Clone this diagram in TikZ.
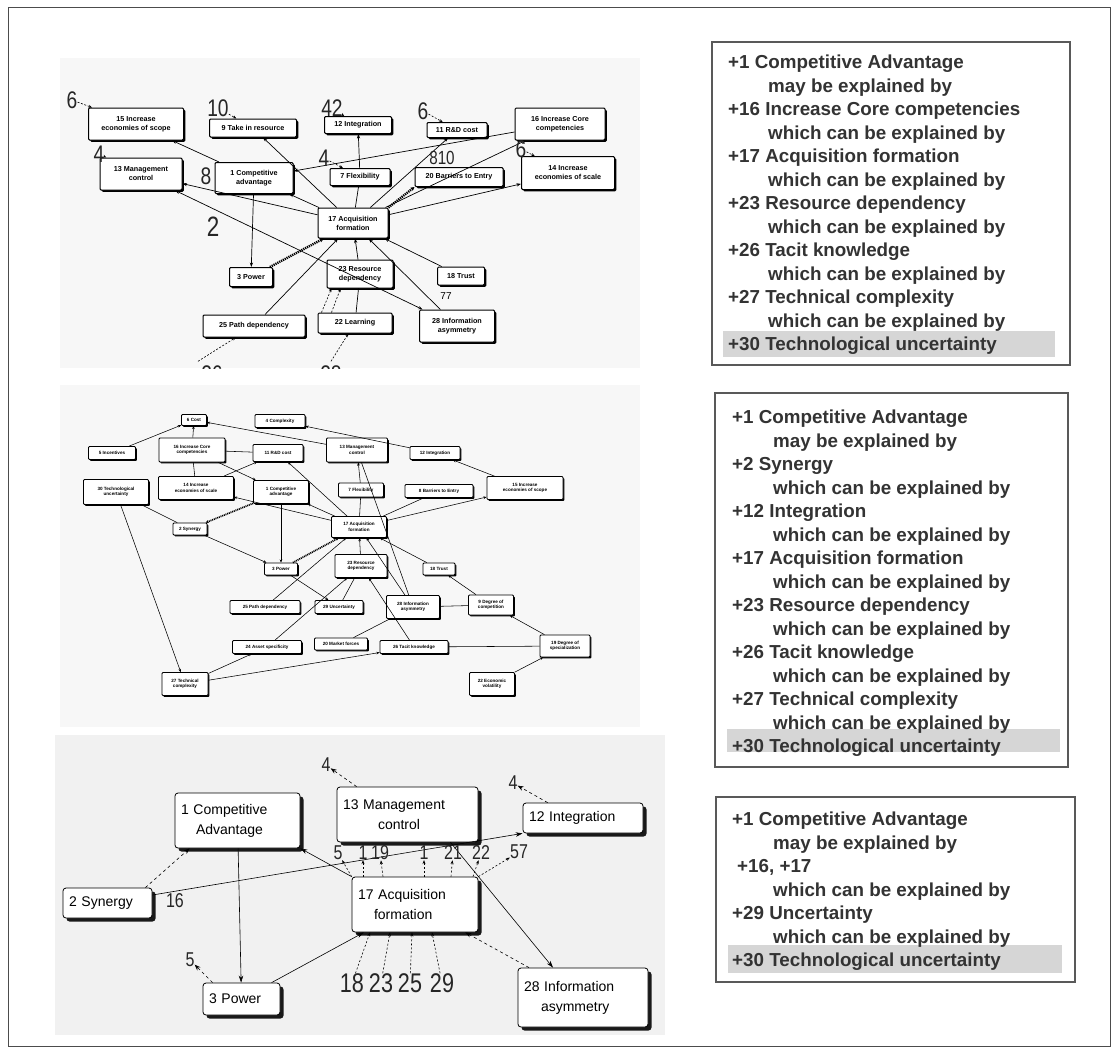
\documentclass[tikz,border=0pt]{standalone}
\usepackage{fontspec}
\setmainfont{Liberation Sans}
\usepackage{graphicx}
\usetikzlibrary{arrows.meta,shadows}
\newcommand\cnum[1]{\scalebox{0.8}[1]{#1}}
\begin{document}
\begin{tikzpicture}[x=1pt,y=-1pt,
  tbox/.style={draw=black, line width=1pt, fill=white, rounded corners=1.2pt, inner sep=1pt, align=center,
    font=\fontsize{7.2}{9}\selectfont\bfseries,
    drop shadow={shadow xshift=1.8pt, shadow yshift=-1.8pt, fill=black, opacity=1}},
  mbox/.style={draw=black, line width=0.8pt, fill=white, rounded corners=1pt, inner sep=0.5pt, align=center,
    font=\fontsize{4.6}{5.4}\selectfont\bfseries,
    drop shadow={shadow xshift=1.4pt, shadow yshift=-1.4pt, fill=black, opacity=1}},
  bbox/.style={draw=black, line width=0.8pt, fill=white, rounded corners=3pt, align=left, inner xsep=6pt, inner ysep=2pt,
    font=\fontsize{14}{20}\selectfont,
    drop shadow={shadow xshift=3.5pt, shadow yshift=-3.5pt, fill=black!90, opacity=1}},
  tarr/.style={-{Stealth[length=4.5pt,width=3.2pt]}, line width=0.7pt},
  tline/.style={line width=0.7pt},
  marr/.style={-{Stealth[length=3.2pt,width=2.6pt]}, line width=0.55pt},
  mline/.style={line width=0.55pt},
  thatch/.style={line width=2.4pt, dash pattern=on 1.2pt off 0.9pt, -{Stealth[length=4pt,width=4pt]}},
  mhatch/.style={line width=1.7pt, dash pattern=on 1pt off 0.8pt, -{Stealth[length=3pt,width=3pt]}},
  tdash/.style={-{Stealth[length=3.5pt,width=2.8pt]}, line width=0.6pt, dash pattern=on 2pt off 1.6pt},
  barr/.style={-{Stealth[length=7pt,width=4.5pt]}, line width=0.6pt},
  bdash/.style={-{Stealth[length=6pt,width=4.5pt]}, line width=0.6pt, dash pattern=on 3pt off 3pt},
  sdash/.style={-{Stealth[length=4pt,width=3pt]}, line width=0.6pt, dash pattern=on 2pt off 2pt},
  bignum/.style={font=\fontsize{24}{24}\selectfont, inner sep=0pt, text=black!85},
  bnum/.style={font=\fontsize{20}{20}\selectfont, inner sep=0pt, text=black!85},
  qnum/.style={font=\fontsize{27}{27}\selectfont, inner sep=0pt, text=black!85},
  rtext/.style={font=\fontsize{18.8}{23.5}\selectfont\bfseries, text=black!80, align=left, inner sep=0pt, anchor=north west},
  rbox/.style={draw=black!65, line width=1.1pt},
  hl/.style={fill=gray!32}
]
\useasboundingbox (0,0) rectangle (1117,1055);
\fill[white] (0,0) rectangle (1117,1055);
\draw[black!70, line width=0.8pt] (8,7) rectangle (1110,1046);
% panels
\fill[gray!6] (60,58) rectangle (640,368);
\fill[gray!6] (60,385) rectangle (640,727);
\fill[gray!11] (55,735) rectangle (665,1035);

% ================= TOP GRAPH =================
\node[tbox, minimum width=95pt, minimum height=32pt] (t15) at (136,124) {15 Increase\\economies of scope};
\node[tbox, minimum width=87pt, minimum height=18pt] (t9) at (253,128) {9 Take in resource};
\node[tbox, minimum width=67pt, minimum height=17pt] (t12) at (358,125) {12 Integration};
\node[tbox, minimum width=60pt, minimum height=15pt] (t11) at (457,130) {11 R\&D cost};
\node[tbox, minimum width=90pt, minimum height=32pt] (t16) at (560,124) {16 Increase Core\\competencies};
\node[tbox, minimum width=82pt, minimum height=32pt] (t13) at (141,174) {13 Management\\control};
\node[tbox, minimum width=78pt, minimum height=31pt] (t1) at (254,178) {1 Competitive\\advantage};
\node[tbox, minimum width=60pt, minimum height=17pt] (t7) at (360,177) {7 Flexibility};
\node[tbox, minimum width=88pt, minimum height=19pt] (t20) at (459,177) {20 Barriers to Entry};
\node[tbox, minimum width=93pt, minimum height=33pt] (t14) at (568,173) {14 Increase\\economies of scale};
\node[tbox, minimum width=70pt, minimum height=30pt] (t17) at (353,223) {17 Acquisition\\formation};
\node[tbox, minimum width=43pt, minimum height=19pt] (t3) at (251,277) {3 Power};
\node[tbox, minimum width=66pt, minimum height=28pt] (t23) at (360,274) {23 Resource\\dependency};
\node[tbox, minimum width=47pt, minimum height=18pt] (t18) at (461,276) {18 Trust};
\node[tbox, minimum width=102pt, minimum height=22pt] (t25) at (254,326) {25 Path dependency};
\node[tbox, minimum width=74pt, minimum height=20pt] (t22) at (355,323) {22 Learning};
\node[tbox, minimum width=75pt, minimum height=32pt] (t28) at (457,326) {28 Information\\asymmetry};

\draw[tarr] (t1) -- (t15);
\draw[tarr] (t17) -- (t9);
\draw[tline] (t17) -- (t7);
\draw[tarr] (t7) -- (t12);
\draw[tarr] (t17) -- (t11);
\draw[tarr] (t16) -- (t1);
\draw[tarr] (t17) -- (t14);
\draw[tarr] (t17) -- (t16);
\draw[thatch] (t17.north east) -- (t20.south west);
\draw[tarr] (t17) -- (t13);
\draw[{Stealth[length=4.5pt,width=3.2pt]}-{Stealth[length=4.5pt,width=3.2pt]}, line width=0.7pt] (t13) -- (t28);
\draw[tarr] (t17) -- (t1);
\draw[tarr] (t1) -- (t3);
\draw[thatch] (t3) -- (t17);
\draw[tarr] (t25) -- (t17);
\draw[tarr] (t23) -- (t17);
\draw[tarr] (t28) -- (t17);
\draw[tarr] (t18) -- (t17);
\draw[tline] (t22) -- (t23);

% number labels (top)
\node[bignum] (la) at (72,100) {\cnum{6}};
\node[bignum] (lb) at (218,108) {\cnum{10}};
\node[bignum] (lc) at (332,108) {\cnum{42}};
\node[bignum] (ld) at (423,111) {\cnum{6}};
\node[bignum] (le) at (99,154) {\cnum{4}};
\node[bignum] (lf) at (206,176) {\cnum{8}};
\node[bignum] (lg) at (324,158) {\cnum{4}};
\node[bignum] (lh) at (521,149) {\cnum{6}};
\node[font=\fontsize{28}{28}\selectfont, inner sep=0pt, text=black!85] (li) at (213,227) {\cnum{2}};
\node[font=\fontsize{19}{19}\selectfont, inner sep=0pt, text=black!85] (lj) at (442,158) {\cnum{810}};
\node[font=\fontsize{10}{10}\selectfont, inner sep=0pt] (ll) at (446,296) {77};
\draw[tdash] (la) -- (t15);
\draw[tdash] (lb) -- (t9);
\draw[tdash] (lc) -- (t12);
\draw[tdash] (ld) -- (t11);
\draw[tdash] (le) -- (t13);
\draw[tdash] (lg) -- (t7);
\draw[tdash] (lh) -- (t14);
\draw[tdash] ([xshift=4pt]t22.north west) -- ([xshift=5pt]t23.south west);
\draw[tdash] ([xshift=14pt]t22.north west) -- ([xshift=14pt]t23.south west);
\begin{scope}
\clip (60,58) rectangle (640,368);
\node[bignum] (lm) at (212,374) {\cnum{26}};
\node[bignum] (ln) at (331,374) {\cnum{28}};
\end{scope}
\draw[tdash] ([xshift=-14pt,yshift=4pt]lm.north) -- (t25);
\draw[tdash] ([yshift=4pt]ln.north) -- (t22);

% ================= MIDDLE GRAPH =================
\node[mbox, minimum width=25pt, minimum height=11pt] (m6) at (194,420) {6 Cost};
\node[mbox, minimum width=50pt, minimum height=13pt] (m4) at (280,421) {4 Complexity};
\node[mbox, minimum width=47pt, minimum height=13pt] (mInc) at (112,453) {5 Incentives};
\node[mbox, minimum width=66pt, minimum height=24pt] (m16) at (192,450) {16 Increase Core\\competencies};
\node[mbox, minimum width=50pt, minimum height=17pt] (m11) at (278,453) {11 R\&D cost};
\node[mbox, minimum width=61pt, minimum height=24pt] (m13) at (357,450) {13 Management\\control};
\node[mbox, minimum width=50pt, minimum height=13pt] (m12) at (435,453) {12 Integration};
\node[mbox, minimum width=65pt, minimum height=25pt] (m30) at (116,492) {30 Technological\\uncertainty};
\node[mbox, minimum width=75pt, minimum height=23pt] (m14) at (196,488) {14 Increase\\economies of scale};
\node[mbox, minimum width=55pt, minimum height=23pt] (m1) at (281,492) {1 Competitive\\advantage};
\node[mbox, minimum width=45pt, minimum height=14pt] (m7) at (361,490) {7 Flexibility};
\node[mbox, minimum width=68pt, minimum height=13pt] (m8) at (439,491) {8 Barriers to Entry};
\node[mbox, minimum width=76pt, minimum height=23pt] (m15) at (525,488) {15 Increase\\economies of scope};
\node[mbox, minimum width=34pt, minimum height=12pt] (m2) at (190,529) {2 Synergy};
\node[mbox, minimum width=55pt, minimum height=21pt] (m17) at (359,527) {17 Acquisition\\formation};
\node[mbox, minimum width=33pt, minimum height=12pt] (mPow) at (281,569) {3 Power};
\node[mbox, minimum width=52pt, minimum height=23pt] (m23) at (361,566) {23 Resource\\dependency};
\node[mbox, minimum width=32pt, minimum height=12pt] (m21) at (439,569) {18 Trust};
\node[mbox, minimum width=70pt, minimum height=13pt] (mPath) at (265,607) {25 Path dependency};
\node[mbox, minimum width=48pt, minimum height=13pt] (m29) at (339,607) {29 Uncertainty};
\node[mbox, minimum width=53pt, minimum height=23pt] (m28) at (413,607) {28 Information\\asymmetry};
\node[mbox, minimum width=45pt, minimum height=20pt] (m9) at (491,605) {9 Degree of\\competition};
\node[mbox, minimum width=69pt, minimum height=13pt] (m24) at (267,647) {24 Asset specificity};
\node[mbox, minimum width=53pt, minimum height=12pt] (m20) at (341,644) {20 Market forces};
\node[mbox, minimum width=68pt, minimum height=13pt] (m26) at (414,647) {26 Tacit knowledge};
\node[mbox, minimum width=50pt, minimum height=22pt] (m7d) at (565,646) {19 Degree of\\specialization};
\node[mbox, minimum width=46pt, minimum height=23pt] (m27) at (185,684) {27 Technical\\complexity};
\node[mbox, minimum width=45pt, minimum height=23pt] (m31) at (492,684) {22 Economic\\volatility};

\draw[marr] (mInc) -- (m6);
\draw[marr] (m16) -- (m6);
\draw[mline] (m14) -- (m16);
\draw[marr] (m13) -- (m6);
\draw[marr] (m12) -- (m4);
\draw[mline] (m16) -- (m11);
\draw[marr] (m14) -- (m11);
\draw[marr] (m16) -- (m1);
\draw[marr] (m17) -- (m11);
\draw[marr] (m17) -- (m1);
\draw[marr] (m1) -- (mPow);
\draw[mhatch] (m1) -- (m2);
\draw[mline] (m30) -- (m2);
\draw[marr] (m2) -- (mPow);
\draw[mhatch] (mPow) -- (m17);
\draw[marr] (m17) -- (m15);
\draw[mline] (m17) -- (m8);
\draw[marr] (m15) -- (m12);
\draw[mline] (m17) -- (m7);
\draw[marr] (m7) -- (m13);
\draw[marr] (m23) -- (m17);
\draw[marr] (mPath) -- (m17);
\draw[mline] (m29) -- (m23);
\draw[marr] (m28) -- (m17);
\draw[marr] (m26) -- (m23);
\draw[mline] (m20) -- (m28);
\draw[marr] (m27) -- (m24);
\draw[marr] (m27) -- (m26);
\draw[marr] (m30) -- (m27);
\draw[mline] (m26) -- (m7d);
\draw[marr] (m7d) -- (m9);
\draw[marr] (m31) -- (m7d);
\draw[marr] (m21) -- (m17);
\draw[marr] (m9) -- (m21);
\draw[mline] (m13) -- (m28);
\draw[marr] (m24) -- (m23);
\draw[marr] (mPow) -- (m29);
\draw[marr] (m17) -- (m14);
\draw[mline] (m28) -- (m9);

% ================= BOTTOM GRAPH =================
\node[bbox, minimum width=125pt, text width=113pt, minimum height=55pt] (b1) at (237.5,820.5) {1 Competitive\\\hspace*{15pt}Advantage};
\node[bbox, minimum width=141pt, text width=129pt, minimum height=55pt] (b13) at (407.5,814.5) {13 Management\\\hspace*{35pt}control};
\node[bbox, minimum width=120pt, text width=108pt, minimum height=30pt] (b12) at (583,818) {12 Integration};
\node[bbox, minimum width=89pt, text width=77pt, minimum height=30pt] (b2) at (107.5,903) {2 Synergy};
\node[bbox, minimum width=126pt, text width=114pt, minimum height=55pt] (b17) at (415,904.5) {17 Acquisition\\\hspace*{16pt}formation};
\node[bbox, minimum width=77pt, text width=65pt, minimum height=32pt] (b3) at (241.5,999) {3 Power};
\node[bbox, minimum width=130pt, text width=118pt, minimum height=59pt] (b28) at (583,997.5) {28 Information\\\hspace*{17pt}asymmetry};

\draw[barr] (b1) -- (b3);
\draw[bdash] ([xshift=-7pt]b2.north east) -- ([xshift=15pt]b1.south west);
\draw[barr] ([yshift=8pt]b2.east) -- (b12.south west);
\draw[barr] (b17.north west) -- (b1.south east);
\draw[barr] (b3) -- (b17);
\draw[bdash] (b28) -- (b17);
\draw[barr] ([xshift=43pt]b13.south) -- ([xshift=-30pt]b28.north);

\node[bnum] (c4a) at (326,765) {\cnum{4}};
\node[bnum] (c4b) at (513,783) {\cnum{4}};
\node[bnum] (c5) at (190,960) {\cnum{5}};
\node[bnum] (c16) at (175,901) {\cnum{16}};
\draw[bdash] ([xshift=20pt]b13.north west) -- (c4a);
\draw[bdash] ([xshift=25pt]b12.north west) -- (c4b);
\draw[bdash] ([xshift=10pt]b3.north west) -- (c5);

\node[bnum] (r5) at (338,853) {\cnum{5}};
\node[bnum] (r1a) at (363,853) {\cnum{1}};
\node[bnum] (r19) at (380,853) {\cnum{19}};
\node[bnum] (r1b) at (424,853) {\cnum{1}};
\node[bnum] (r21) at (453,853) {\cnum{21}};
\node[bnum] (r22) at (481,853) {\cnum{22}};
\node[bnum] (r57) at (519,852) {\cnum{57}};
\draw[sdash] (b17.north west) -- (r5);
\draw[sdash] ([xshift=-52pt]b17.north) -- (r1a);
\draw[sdash] ([xshift=-32pt]b17.north) -- (r19);
\draw[sdash] ([xshift=9pt]b17.north) -- (r1b);
\draw[sdash] ([xshift=36pt]b17.north) -- (r21);
\draw[sdash] ([xshift=58pt]b17.north) -- (r22);
\draw[sdash] (b17.north east) -- (r57);

\node[qnum] (q18) at (352,983) {\cnum{18}};
\node[qnum] (q23) at (381,983) {\cnum{23}};
\node[qnum] (q25) at (410,983) {\cnum{25}};
\node[qnum] (q29) at (442,983) {\cnum{29}};
\draw[sdash] (q18) -- ([xshift=-45pt]b17.south);
\draw[sdash] (q23) -- ([xshift=-25pt]b17.south);
\draw[sdash] (q25) -- ([xshift=-3pt]b17.south);
\draw[sdash] (q29) -- ([xshift=17pt]b17.south);

% ================= RIGHT TEXT BOXES =================
\fill[hl] (723,331) rectangle (1055,357);
\draw[rbox] (712,42) rectangle (1070,365);
\node[rtext] (r1txt) at (728,55) {+1 Competitive Advantage\\
\hspace*{40pt}may be explained by\\
+16 Increase Core competencies\\
\hspace*{40pt}which can be explained by\\
+17 Acquisition formation\\
\hspace*{40pt}which can be explained by\\
+23 Resource dependency\\
\hspace*{40pt}which can be explained by\\
+26 Tacit knowledge\\
\hspace*{40pt}which can be explained by\\
+27 Technical complexity\\
\hspace*{40pt}which can be explained by\\
+30 Technological uncertainty};

\fill[hl] (727,729) rectangle (1060,752);
\draw[rbox] (715,393) rectangle (1068,767);
\node[rtext] (r2txt) at (732,410) {+1 Competitive Advantage\\
\hspace*{41pt}may be explained by\\
+2 Synergy\\
\hspace*{41pt}which can be explained by\\
+12 Integration\\
\hspace*{41pt}which can be explained by\\
+17 Acquisition formation\\
\hspace*{41pt}which can be explained by\\
+23 Resource dependency\\
\hspace*{41pt}which can be explained by\\
+26 Tacit knowledge\\
\hspace*{41pt}which can be explained by\\
+27 Technical complexity\\
\hspace*{41pt}which can be explained by\\
+30 Technological uncertainty};

\fill[hl] (728,945) rectangle (1062,973);
\draw[rbox] (716,797) rectangle (1075,982);
\node[rtext] (r3txt) at (732,812) {+1 Competitive Advantage\\
\hspace*{41pt}may be explained by\\
\hspace*{5pt}+16, +17\\
\hspace*{41pt}which can be explained by\\
+29 Uncertainty\\
\hspace*{41pt}which can be explained by\\
+30 Technological uncertainty};
\end{tikzpicture}
\end{document}
